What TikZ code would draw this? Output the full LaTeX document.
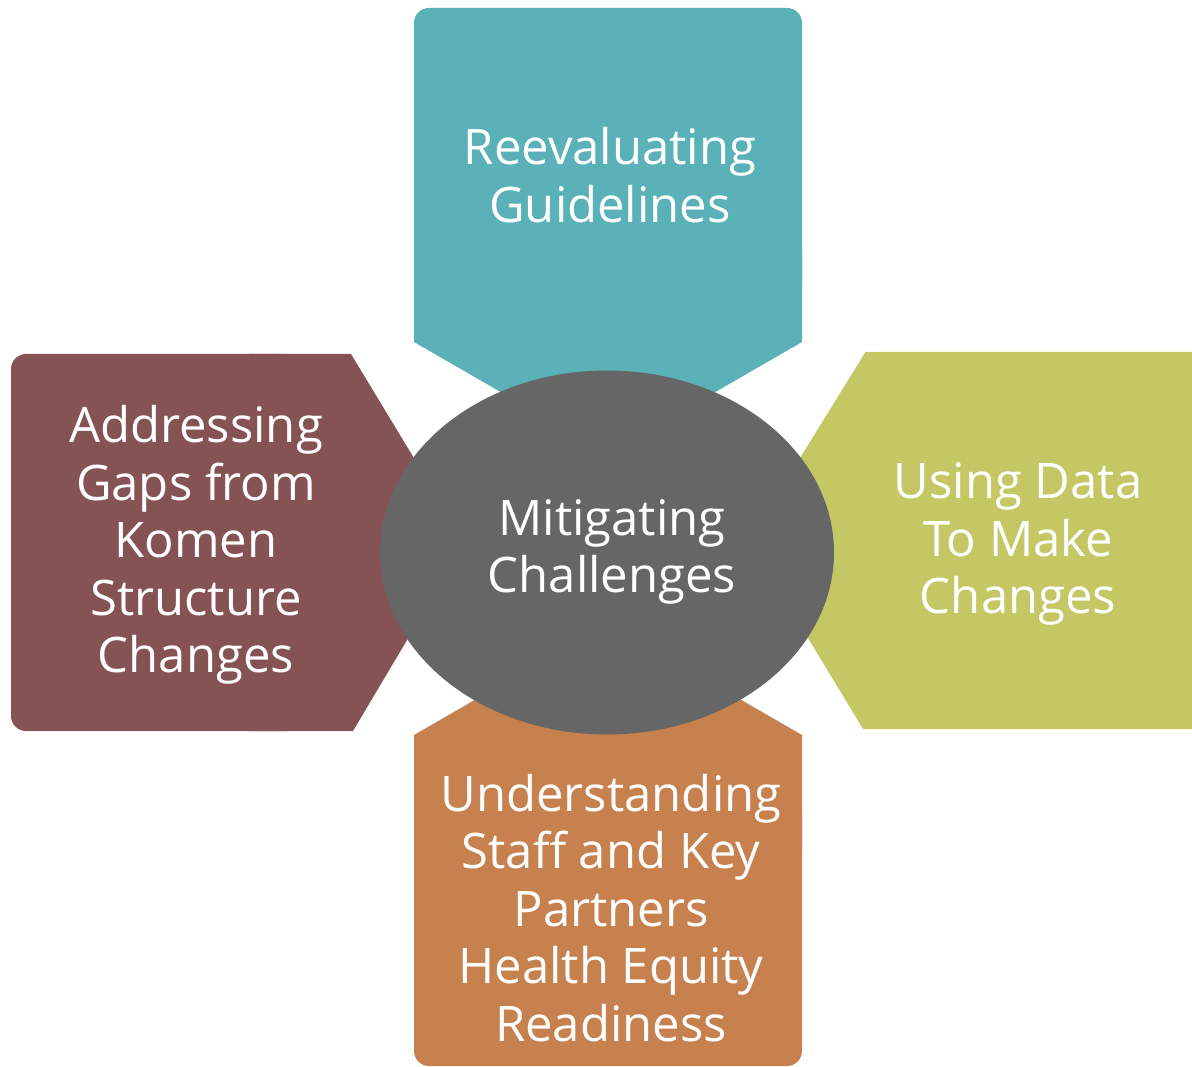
\documentclass[tikz,border=0pt]{standalone}
\usepackage{fontspec}
\setmainfont{Open Sans}
\usepackage{tikz}
\usetikzlibrary{positioning}
\definecolor{guideteal}{RGB}{90,177,183}
\definecolor{gapmaroon}{RGB}{133,83,84}
\definecolor{dataolive}{RGB}{196,199,100}
\definecolor{readyorange}{RGB}{199,129,78}
\definecolor{hubgray}{RGB}{102,102,102}
\tikzset{
  boxtext/.style={text=white, align=center, inner sep=0pt, font=\fontsize{49}{57.5}\selectfont},
  petal/.style={draw=none},
  roundpetal/.style={petal, rounded corners=15pt},
}

\begin{document}
\begin{tikzpicture}[x=1pt, y=-1pt]
  \useasboundingbox (0,0) rectangle (1192,1067);

  % Top petal
  \fill[roundpetal, guideteal] (414,8) rectangle (802,300);
  \fill[petal, guideteal] (414,250) -- (802,250) -- (802,342) -- (608,454) -- (414,342) -- cycle;

  % Left petal
  \fill[roundpetal, gapmaroon] (11,354) rectangle (300,731);
  \fill[petal, gapmaroon] (250,354) -- (351,354) -- (465,542.5) -- (353,731) -- (250,731) -- cycle;

  % Right petal (runs off the edge)
  \fill[petal, dataolive] (865.5,352) -- (1192,352) -- (1192,729) -- (863,729) -- (749,540.5) -- cycle;

  % Bottom petal
  \fill[roundpetal, readyorange] (414,800) rectangle (802,1066);
  \fill[petal, readyorange] (414,850) -- (414,735) -- (608,623) -- (802,735) -- (802,850) -- cycle;

  % Hub
  \fill[hubgray] (607,552.5) ellipse [x radius=227, y radius=182];

  % Texts
  \node[boxtext] (guidelines) at (610,175) {Reevaluating\\Guidelines};
  \node[boxtext] (gaps) at (196,545) {Addressing\\Gaps from\\Komen\\Structure\\Changes};
  \node[boxtext] (data) at (1018,544) {Using Data\\To Make\\Changes};
  \node[boxtext] (readiness) at (611,908) {Understanding\\Staff and Key\\Partners\\Health Equity\\Readiness};
  \node[boxtext] (hub) at (612,552) {Mitigating\\Challenges};
\end{tikzpicture}
\end{document}
